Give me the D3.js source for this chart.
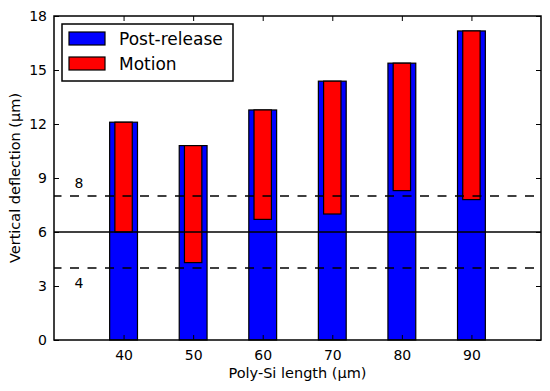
<!DOCTYPE html>
<html>
<head>
<meta charset="utf-8">
<script src="https://cdn.jsdelivr.net/npm/d3@7"></script>
<style>
  body { margin: 0; background: #fff; }
  svg { font-family: "DejaVu Sans", sans-serif; }
</style>
</head>
<body>
<svg id="chart" width="550" height="391"></svg>
<script>
// poly-Si lengths (um)
const lengths = [40, 50, 60, 70, 80, 90]
// post-release deflection = top of each bar
const postRelease = [12.1, 10.8, 12.78, 14.38, 15.38, 17.17]
// bottom of motion bar (motion range goes up to post-release value)
const motionLow = [6.0, 4.3, 6.7, 7.0, 8.3, 7.8]
const yTicks = [0, 3, 6, 9, 12, 15, 18]
const refLines = [{v: 6, dash: null}, {v: 8, dash: "9,8.5", label: "8", ly: 8.45}, {v: 4, dash: "9,8.5", label: "4", ly: 2.9}]

const svg = d3.select("#chart")
const margin = {left: 54, right: 9, top: 16, bottom: 51}
const W = 550, H = 391

const x = d3.scaleLinear().domain([30, 100]).range([margin.left, W - margin.right])
const y = d3.scaleLinear().domain([0, 18]).range([H - margin.bottom, margin.top])

// blue bars, full height
svg.append("g").selectAll("rect")
    .data(lengths)
    .enter().append("rect")
    .attr("x", (d) => x(d - 2))
    .attr("width", x(4) - x(0))
    .attr("y", (d, i) => y(postRelease[i]))
    .attr("height", (d, i) => y(0) - y(postRelease[i]))
    .attr("fill", "#0000ff")
    .attr("stroke", "#000")
    .attr("stroke-width", 1.2)

// red motion bars
svg.append("g").selectAll("rect")
    .data(lengths)
    .enter().append("rect")
    .attr("x", (d) => x(d - 1.25))
    .attr("width", x(2.5) - x(0))
    .attr("y", (d, i) => y(postRelease[i]))
    .attr("height", (d, i) => y(motionLow[i]) - y(postRelease[i]))
    .attr("fill", "#ff0000")
    .attr("stroke", "#000")
    .attr("stroke-width", 1.2)

// reference lines
refLines.forEach(r => {
    svg.append("line")
        .attr("x1", x(30)).attr("x2", x(100))
        .attr("y1", y(r.v)).attr("y2", y(r.v))
        .attr("stroke", "#000").attr("stroke-width", 1.5)
        .attr("stroke-dasharray", r.dash)
        .attr("stroke-dashoffset", 1.5)
    if (r.label) {
        svg.append("text")
            .attr("x", x(33.6)).attr("y", y(r.ly))
            .attr("text-anchor", "middle")
            .attr("font-size", 14)
            .text(r.label)
    }
})

// axes with inward ticks on all four sides
const axB = svg.append("g").attr("transform", `translate(0,${y(0)})`)
    .call(d3.axisBottom(x).tickValues(lengths).tickSize(-5).tickPadding(10))
const axT = svg.append("g").attr("transform", `translate(0,${y(18)})`)
    .call(d3.axisTop(x).tickValues(lengths).tickSize(-5).tickFormat(""))
const axL = svg.append("g").attr("transform", `translate(${x(30)},0)`)
    .call(d3.axisLeft(y).tickValues(yTicks).tickSize(-5).tickPadding(7))
const axR = svg.append("g").attr("transform", `translate(${x(100)},0)`)
    .call(d3.axisRight(y).tickValues(yTicks).tickSize(-5).tickFormat(""))

;[axB, axT, axL, axR].forEach(a => {
    a.select(".domain").remove()
    a.selectAll("line").attr("stroke", "#000")
    a.selectAll("text").attr("font-size", 14).attr("fill", "#000")
        .attr("font-family", "DejaVu Sans")
})

// frame
svg.append("rect")
    .attr("x", x(30)).attr("y", y(18))
    .attr("width", x(100) - x(30)).attr("height", y(0) - y(18))
    .attr("fill", "none").attr("stroke", "#000").attr("stroke-width", 1.5)

// axis labels
svg.append("text")
    .attr("x", (x(30) + x(100)) / 2).attr("y", 378)
    .attr("text-anchor", "middle").attr("font-size", 14.5)
    .text("Poly-Si length (µm)")
svg.append("text")
    .attr("transform", `translate(20,${(y(0) + y(18)) / 2}) rotate(-90)`)
    .attr("text-anchor", "middle").attr("font-size", 14.5)
    .text("Vertical deflection (µm)")

// legend
const legend = svg.append("g")
legend.append("rect")
    .attr("x", 62).attr("y", 24).attr("width", 171).attr("height", 57)
    .attr("fill", "#fff").attr("stroke", "#000").attr("stroke-width", 1.5)
const items = [{name: "Post-release", color: "#0000ff"}, {name: "Motion", color: "#ff0000"}]
items.forEach((it, i) => {
    legend.append("rect")
        .attr("x", 69).attr("y", 32 + i * 25).attr("width", 36).attr("height", 13)
        .attr("fill", it.color).attr("stroke", "#000").attr("stroke-width", 1.2)
    legend.append("text")
        .attr("x", 119).attr("y", 45 + i * 25)
        .attr("font-size", 17)
        .text(it.name)
})
</script>
</body>
</html>
